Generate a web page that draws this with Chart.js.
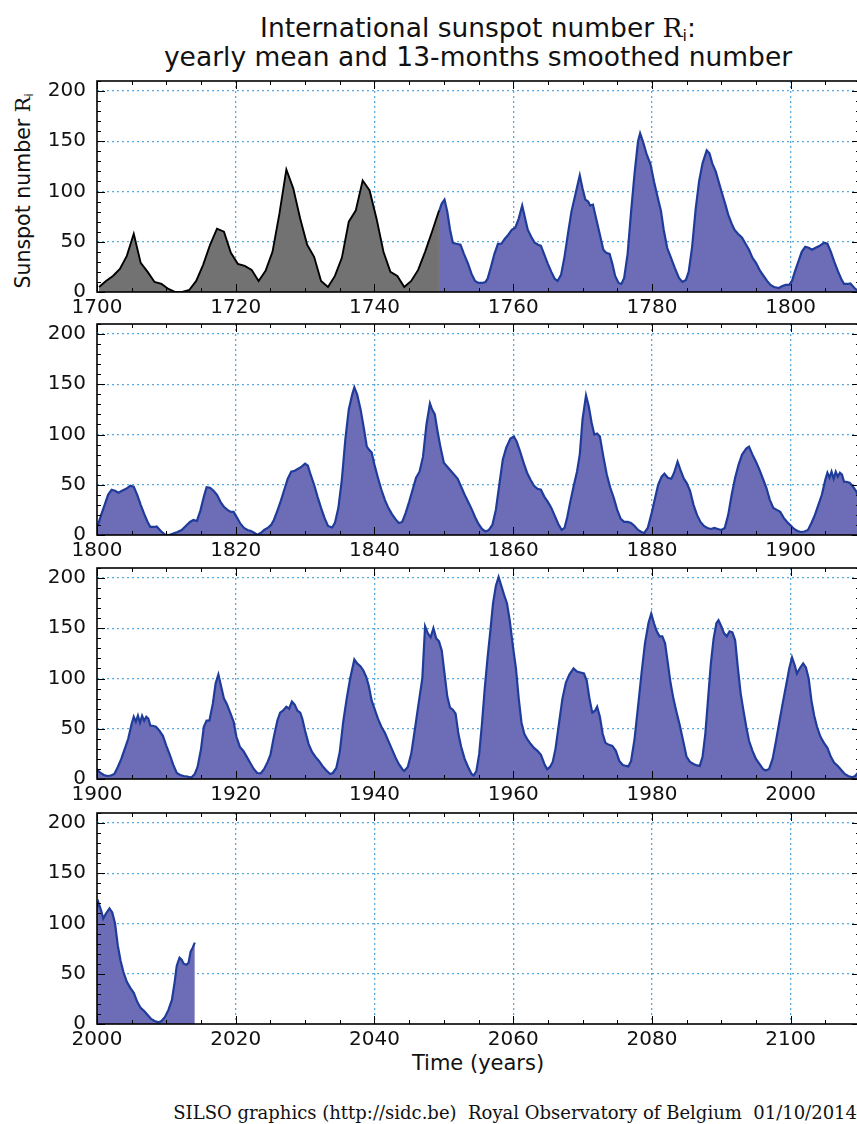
<!DOCTYPE html>
<html>
<head>
<meta charset="utf-8">
<script src="https://cdn.jsdelivr.net/npm/chart.js@4.4.1/dist/chart.umd.min.js"></script>
<style>
  html, body { margin: 0; padding: 0; background: #fff; }
  body { width: 857px; height: 1124px; overflow: hidden; position: relative; font-family: "DejaVu Sans", sans-serif; color: #111; }
  canvas { position: absolute; left: 0; }
  .txt { position: absolute; white-space: nowrap; }
  .rm { font-family: "DejaVu Serif", serif; }
  sub { font-size: 60%; vertical-align: -0.25em; line-height: 0; }
</style>
</head>
<body>
<div class="txt" id="title" style="left:78px; width:800px; top:13px; text-align:center; font-size:26.5px; line-height:29px;">
  International sunspot number <span class="rm">R</span><sub>i</sub>:<br>yearly mean and 13-months smoothed number
</div>
<div class="txt" id="ylabel" style="left:23px; top:191px; font-size:20.5px; line-height:22px; transform:translate(-50%,-50%) rotate(-90deg);">
  Sunspot number <span class="rm">R</span><sub>i</sub>
</div>
<div class="txt" id="xlabel" style="left:478px; top:1063px; font-size:21px; line-height:22px; transform:translate(-50%,-50%);">Time (years)</div>
<div class="txt" id="footer" style="right:0px; top:1113px; font-family:'DejaVu Serif',serif; font-size:18px; line-height:20px; transform:translateY(-50%);">SILSO graphics (http://sidc.be)&nbsp; Royal Observatory of Belgium&nbsp; 01/10/2014</div>

<canvas id="p0" width="870" height="263"></canvas>
<canvas id="p1" width="870" height="263"></canvas>
<canvas id="p2" width="870" height="263"></canvas>
<canvas id="p3" width="870" height="263"></canvas>

<script>
// ---------- DATA ----------
// Yearly mean sunspot numbers 1700-1749 (grey part)
const yearlyYears = [1700,1701,1702,1703,1704,1705,1706,1707,1708,1709,
  1710,1711,1712,1713,1714,1715,1716,1717,1718,1719,
  1720,1721,1722,1723,1724,1725,1726,1727,1728,1729,
  1730,1731,1732,1733,1734,1735,1736,1737,1738,1739,
  1740,1741,1742,1743,1744,1745,1746,1747,1748,1749];
const yearlyValues = [5,11,16,23,36,58,29,20,10,8,
  3,0,0,2,11,27,47,63,60,39,
  28,26,22,11,21,40,78,122,103,73,
  47,35,11,5,16,34,70,81,111,101,
  73,40,20,16,5,11,22,40,60,80.9];

// 13-month smoothed monthly number, [time, value] (blue part)
const smoothedPoints = [
[1749.3,80],[1749.7,88],[1750.1,92],[1750.5,80],[1750.9,62],[1751.3,49],[1751.8,48],[1752.4,47],[1752.9,38],[1753.5,28],
[1754.0,18],[1754.5,11],[1755.0,9],[1755.5,9],[1756.0,10],[1756.3,13],[1756.8,25],[1757.3,38],[1757.8,48],[1758.3,48],
[1758.8,53],[1759.3,57],[1759.8,62],[1760.3,64],[1760.8,73],[1761.3,86],[1761.7,74],[1762.1,62],[1762.6,55],[1763.1,49],
[1763.6,47],[1764.0,46],[1764.5,37],[1765.0,28],[1765.5,20],[1766.0,13],[1766.4,11],[1766.9,17],[1767.4,35],[1767.9,58],
[1768.4,80],[1769.0,98],[1769.6,116],[1770.0,103],[1770.4,92],[1770.8,90],[1771.1,86],[1771.5,87],[1772.0,72],[1772.5,57],
[1773.0,42],[1773.4,39],[1773.9,38],[1774.3,28],[1774.7,16],[1775.2,9],[1775.6,8],[1776.0,14],[1776.5,38],[1777.0,80],
[1777.5,118],[1778.0,150],[1778.3,158],[1778.7,150],[1779.2,138],[1779.8,127],[1780.3,110],[1780.8,95],[1781.3,81],[1781.7,62],
[1782.2,44],[1782.7,35],[1783.3,24],[1783.9,14],[1784.4,10],[1784.9,12],[1785.3,20],[1785.8,45],[1786.3,82],[1786.8,110],
[1787.3,128],[1787.9,141],[1788.3,138],[1788.7,128],[1789.2,120],[1789.7,108],[1790.2,96],[1790.6,87],[1791.0,77],[1791.5,68],
[1791.9,62],[1792.4,58],[1793.0,54],[1793.5,48],[1794.0,42],[1794.5,34],[1795.0,29],[1795.6,21],[1796.1,16],[1796.6,11],
[1797.1,7],[1797.6,5],[1798.3,4],[1798.8,6],[1799.3,7],[1799.8,7],[1800.2,11],[1800.6,20],[1801.1,30],[1801.6,40],
[1802.1,45],[1802.6,44],[1803.1,42],[1803.6,44],[1804.2,46],[1804.8,49],[1805.3,48],[1805.8,40],[1806.3,30],[1806.8,21],
[1807.3,13],[1807.7,8],[1808.2,8],[1808.6,8.5],[1809.2,4],[1809.8,0.5],[1810.4,0],[1811.0,1.5],[1811.6,3],[1812.2,5],
[1812.8,9],[1813.4,13],[1813.9,15],[1814.4,14],[1814.9,24],[1815.4,38],[1815.8,47.6],[1816.3,47],[1816.8,44],[1817.3,40],
[1817.8,33],[1818.3,28],[1818.8,25],[1819.3,23],[1819.7,23],[1820.2,17],[1820.7,11],[1821.2,7],[1821.7,5],[1822.2,4],
[1822.7,2],[1823.1,0.3],[1823.6,2],[1824.1,5],[1824.6,7],[1825.1,10],[1825.5,15],[1826.0,24],[1826.5,34],[1827.0,45],
[1827.5,56],[1828.0,63],[1828.5,64],[1829.0,66],[1829.5,68],[1830.0,71],[1830.4,69],[1830.8,60],[1831.3,50],[1831.8,38],
[1832.3,27],[1832.8,17],[1833.3,9],[1833.9,7.5],[1834.3,12],[1834.8,27],[1835.3,55],[1835.8,95],[1836.3,125],[1836.8,140],
[1837.1,147],[1837.5,140],[1838.0,125],[1838.5,105],[1838.9,88],[1839.2,85],[1839.6,82],[1840.0,70],[1840.5,57],[1841.0,45],
[1841.5,35],[1842.0,27],[1842.5,21],[1843.0,16],[1843.5,12],[1844.0,13],[1844.5,22],[1845.0,33],[1845.5,45],[1846.0,57],
[1846.5,63],[1847.0,78],[1847.5,110],[1848.0,131],[1848.3,125],[1848.7,120],[1849.1,103],[1849.5,88],[1850.0,72],[1850.5,68],
[1851.0,64],[1851.5,60],[1852.0,56],[1852.5,48],[1853.0,40],[1853.5,33],[1854.0,26],[1854.5,18],[1855.0,11],[1855.5,6],
[1856.0,3.5],[1856.5,5],[1857.0,10],[1857.5,25],[1858.0,50],[1858.5,75],[1859.0,87],[1859.6,96],[1860.1,98],[1860.5,93],
[1861.0,83],[1861.5,72],[1862.0,62],[1862.5,55],[1863.0,49],[1863.5,46],[1864.0,45],[1864.5,38],[1865.0,33],[1865.5,27],
[1866.0,19],[1866.5,11],[1867.0,5],[1867.4,7],[1867.8,18],[1868.2,32],[1868.7,48],[1869.2,63],[1869.6,80],[1870.0,115],
[1870.5,139],[1870.9,128],[1871.3,112],[1871.7,100],[1872.1,101],[1872.5,98],[1873.0,78],[1873.5,60],[1874.0,47],[1874.5,37],
[1875.0,25],[1875.5,16],[1876.0,13],[1876.5,13],[1877.0,12],[1877.5,9],[1878.0,5],[1878.5,3],[1878.9,2],[1879.4,7],
[1879.9,20],[1880.4,35],[1880.9,50],[1881.4,58],[1881.8,61],[1882.3,57],[1882.8,56],[1883.2,62],[1883.7,73],[1884.1,65],
[1884.6,56],[1885.0,52],[1885.5,44],[1886.0,30],[1886.5,20],[1887.0,13],[1887.5,9],[1888.0,7],[1888.5,6],[1889.0,7],
[1889.5,6],[1890.0,5],[1890.5,7],[1891.0,20],[1891.5,40],[1892.0,57],[1892.5,70],[1893.0,80],[1893.6,86],[1894.0,88],
[1894.5,80],[1895.0,73],[1895.5,65],[1896.0,56],[1896.5,47],[1897.0,35],[1897.5,27],[1898.0,25],[1898.5,23],[1899.0,17],
[1899.5,13],[1900.0,9.5],[1900.5,6],[1901.0,4],[1901.5,3],[1902.0,3.5],[1902.5,5],[1903.0,12],[1903.5,20],[1904.0,30],
[1904.5,40],[1905.0,55],[1905.3,62],[1905.6,57],[1905.9,63],[1906.2,56],[1906.5,63],[1906.8,58],[1907.1,62],[1907.4,60],
[1907.7,53],[1908.0,53],[1908.5,52],[1909.0,48],[1909.5,43],[1910.0,33],[1910.5,24],[1911.0,14],[1911.5,6],[1912.0,4],
[1912.5,3],[1913.0,2.5],[1913.6,1.5],[1914.1,5],[1914.5,12],[1915.0,30],[1915.4,52],[1915.8,58],[1916.2,58],[1916.7,75],
[1917.1,95],[1917.5,104],[1917.9,92],[1918.3,80],[1918.7,75],[1919.2,66],[1919.7,57],[1920.1,42],[1920.6,32],[1921.1,28],
[1921.6,22],[1922.1,16],[1922.6,10],[1923.1,6],[1923.6,5.6],[1924.1,10],[1924.6,17],[1925.0,24],[1925.5,42],[1926.0,58],
[1926.4,66],[1926.8,68],[1927.3,72],[1927.7,70],[1928.1,77],[1928.5,74],[1928.9,68],[1929.3,66],[1929.6,60],[1930.0,48],
[1930.5,35],[1931.0,27],[1931.5,22],[1932.0,18],[1932.5,13],[1933.0,9],[1933.6,5],[1934.0,6],[1934.5,11],[1935.0,27],
[1935.5,57],[1936.0,80],[1936.5,100],[1937.1,119],[1937.5,115],[1938.0,112],[1938.4,108],[1938.8,102],[1939.2,92],[1939.6,78],
[1940.0,70],[1940.5,60],[1941.0,52],[1941.5,46],[1942.0,38],[1942.5,30],[1943.0,22],[1943.5,15],[1944.0,10],[1944.3,8],
[1944.8,12],[1945.3,25],[1945.8,48],[1946.3,72],[1946.9,100],[1947.3,152],[1947.7,145],[1948.1,141],[1948.5,150],[1948.9,140],
[1949.3,137],[1949.7,128],[1950.1,105],[1950.5,82],[1950.9,71],[1951.3,69],[1951.7,65],[1952.1,45],[1952.5,32],[1953.0,20],
[1953.5,12],[1954.0,5],[1954.3,3.5],[1954.7,8],[1955.1,25],[1955.5,55],[1955.9,90],[1956.3,120],[1956.7,147],[1957.1,175],
[1957.5,192],[1957.9,201],[1958.3,192],[1958.7,183],[1959.1,175],[1959.5,158],[1960.0,130],[1960.4,110],[1960.8,80],[1961.2,56],
[1961.6,45],[1962.0,40],[1962.5,35],[1963.0,31],[1963.5,28],[1964.0,24],[1964.5,15],[1964.9,9.6],[1965.3,12],[1965.7,17],
[1966.1,30],[1966.6,55],[1967.1,80],[1967.6,96],[1968.1,104],[1968.7,110],[1969.2,107],[1969.7,106],[1970.2,105],[1970.6,98],
[1971.0,80],[1971.4,66],[1971.8,68],[1972.1,72],[1972.5,62],[1972.9,45],[1973.3,36],[1973.8,34],[1974.3,33],[1974.8,28],
[1975.3,18],[1975.8,14],[1976.3,13],[1976.6,12.5],[1977.0,18],[1977.5,40],[1978.0,72],[1978.5,105],[1979.0,135],[1979.5,155],
[1979.9,164.5],[1980.3,155],[1980.7,147],[1981.1,142],[1981.5,142],[1981.9,135],[1982.3,115],[1982.7,95],[1983.1,80],[1983.5,68],
[1984.0,54],[1984.5,38],[1985.0,22],[1985.5,17],[1986.0,15],[1986.5,13.5],[1986.9,13],[1987.3,22],[1987.7,45],[1988.1,80],
[1988.5,115],[1988.9,140],[1989.3,155],[1989.6,158],[1990.0,152],[1990.4,145],[1990.8,142],[1991.2,147],[1991.6,146],[1992.0,138],
[1992.4,110],[1992.8,85],[1993.2,68],[1993.6,52],[1994.0,38],[1994.5,28],[1995.0,20],[1995.5,15],[1996.0,10],[1996.4,8.5],
[1996.9,10],[1997.4,20],[1997.9,38],[1998.4,58],[1998.9,77],[1999.4,95],[1999.8,110],[2000.2,121],[2000.6,113],[2000.9,105],
[2001.3,110],[2001.8,115],[2002.2,111],[2002.6,100],[2003.0,78],[2003.4,63],[2003.8,52],[2004.3,42],[2004.8,36],[2005.3,31],
[2005.8,22],[2006.3,16],[2006.8,13],[2007.3,9],[2007.8,5],[2008.3,3],[2008.9,1.7],[2009.3,3],[2009.8,7],[2010.3,14],
[2010.8,24],[2011.2,42],[2011.5,58],[2011.9,66],[2012.2,64],[2012.5,60],[2012.9,59],[2013.2,61],[2013.5,72],[2013.8,76],
[2014.1,81]
];

// Panel x ranges (years) and axis ticks
const panelStarts = [1700, 1800, 1900, 2000];
const panelSpan = 110;
const xMajorStep = 20, xMinorStep = 5;
const yMax = 210, yMajorStep = 50, yMinorStep = 10;

// ---------- LAYOUT / STYLE ----------
const panelTops = [81, 324, 568, 813];
const PAD_TOP = 12, AREA_H = 211, XAXIS_H = 40, YAXIS_W = 97, PAD_RIGHT = 10;
const FONT = "'DejaVu Sans', sans-serif";
const gridColor = '#5aa9da';

const frame = {
  id: 'frame',
  afterDraw(chart) {
    const { ctx, chartArea: a, scales: { x, y } } = chart;
    ctx.save();
    ctx.strokeStyle = '#000';
    ctx.lineWidth = 1;
    ctx.beginPath();
    x.ticks.forEach(t => {
      const px = Math.round(x.getPixelForValue(t.value)) + 0.5;
      const len = t.value % xMajorStep === 0 ? 8 : 4;
      ctx.moveTo(px, a.bottom); ctx.lineTo(px, a.bottom - len);
      ctx.moveTo(px, a.top); ctx.lineTo(px, a.top + len);
    });
    y.ticks.forEach(t => {
      const py = Math.round(y.getPixelForValue(t.value)) + 0.5;
      const len = t.value % yMajorStep === 0 ? 8 : 4;
      ctx.moveTo(a.left, py); ctx.lineTo(a.left + len, py);
      ctx.moveTo(a.right, py); ctx.lineTo(a.right - len, py);
    });
    ctx.stroke();
    ctx.lineWidth = 1.6;
    ctx.strokeRect(a.left, a.top, a.right - a.left, a.bottom - a.top);
    ctx.restore();
  }
};

const yearlyData = yearlyYears.map((yr, i) => ({ x: yr + 0.3, y: yearlyValues[i] }));
const smoothedData = smoothedPoints.map(p => ({ x: p[0], y: p[1] }));

panelStarts.forEach((start, k) => {
  const cv = document.getElementById('p' + k);
  cv.style.top = (panelTops[k] - PAD_TOP) + 'px';
  new Chart(cv, {
    type: 'line',
    data: {
      datasets: [
        { data: yearlyData, borderColor: '#000', borderWidth: 1.9, backgroundColor: '#727272',
          fill: 'origin', pointRadius: 0, tension: 0 },
        { data: smoothedData, borderColor: '#1f3c9b', borderWidth: 2.2, backgroundColor: '#6c6cb7',
          fill: 'origin', pointRadius: 0, tension: 0 }
      ]
    },
    options: {
      responsive: false,
      animation: false,
      events: [],
      layout: { padding: { top: PAD_TOP, right: PAD_RIGHT, bottom: 0, left: 0 } },
      plugins: { legend: { display: false }, tooltip: { enabled: false }, title: { display: false } },
      scales: {
        x: {
          type: 'linear', min: start, max: start + panelSpan,
          afterFit(s) { s.height = XAXIS_H; s.paddingLeft = 0; s.paddingRight = 0; s.paddingTop = 0; s.paddingBottom = 0; },
          ticks: {
            stepSize: xMinorStep, autoSkip: false, maxRotation: 0, padding: 4,
            font: { family: FONT, size: 20 }, color: '#111',
            callback: v => (v % xMajorStep === 0 ? String(v) : '')
          },
          grid: {
            drawTicks: false,
            color: c => (c.tick && c.tick.value % xMajorStep === 0 && c.tick.value !== start) ? gridColor : 'rgba(0,0,0,0)',
            lineWidth: 1.3
          },
          border: { display: false, dash: [2, 3] }
        },
        y: {
          type: 'linear', min: 0, max: yMax,
          afterFit(s) { s.width = YAXIS_W; s.paddingLeft = 0; s.paddingRight = 0; s.paddingTop = 0; s.paddingBottom = 0; },
          ticks: {
            stepSize: yMinorStep, autoSkip: false, padding: 11,
            font: { family: FONT, size: 20 }, color: '#111',
            callback: v => (v % yMajorStep === 0 ? String(v) : '')
          },
          grid: {
            drawTicks: false,
            color: c => (c.tick && c.tick.value % yMajorStep === 0 && c.tick.value !== 0) ? gridColor : 'rgba(0,0,0,0)',
            lineWidth: 1.3
          },
          border: { display: false, dash: [2, 3] }
        }
      }
    },
    plugins: [frame]
  });
});
</script>
</body>
</html>
